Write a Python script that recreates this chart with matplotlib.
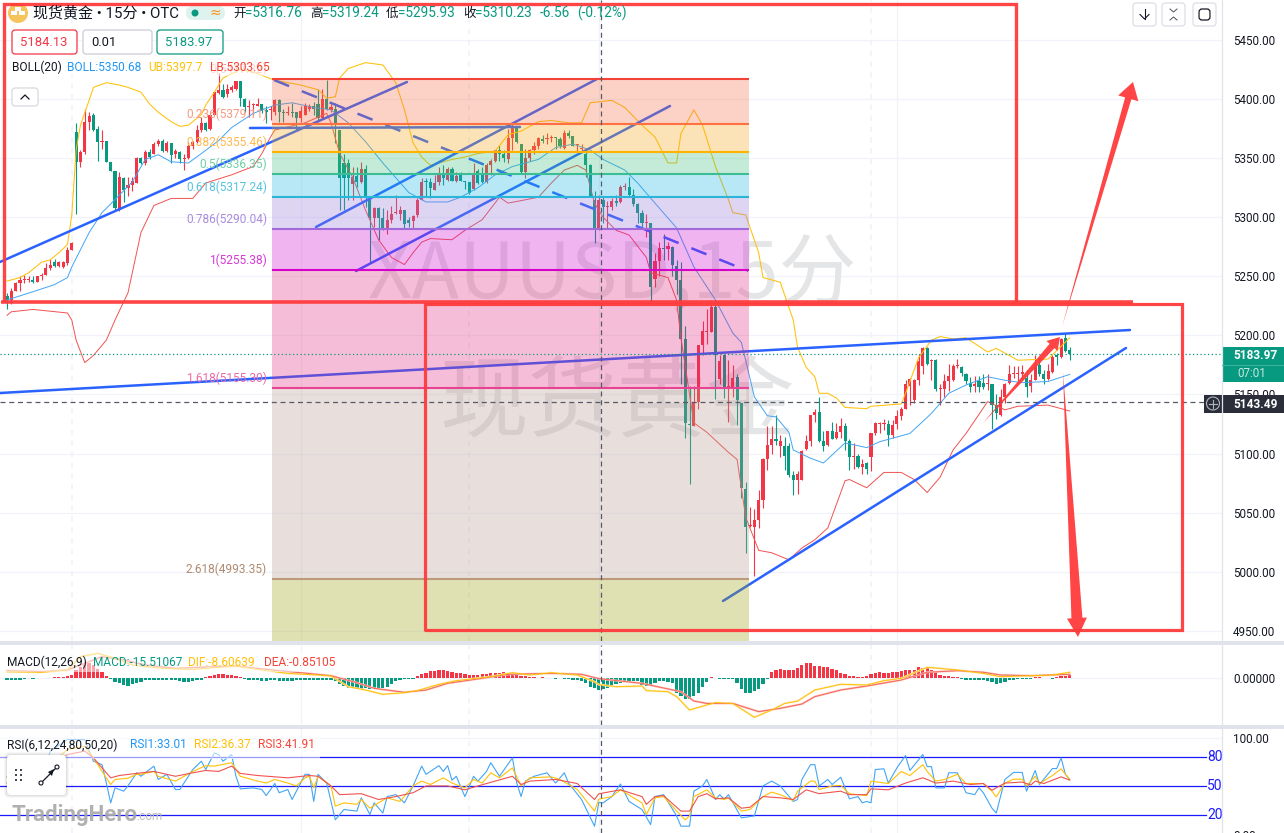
import matplotlib
matplotlib.use("Agg")
import matplotlib.pyplot as plt
import numpy as np
from matplotlib.patches import FancyBboxPatch, Polygon, Circle, Rectangle

plt.rcParams['font.family'] = ['Roboto', 'Noto Sans CJK SC', 'DejaVu Sans']

# --- candles, 15 minute bars
opens = [5233,5230,5238,5244,5247,5247,5247,5245,5250,5251,
    5257,5262,5259,5258,5261,5272,5372,5347,5355,5381,
    5387,5375,5364,5365,5347,5339,5306,5333,5325,5327,
    5329,5350,5346,5355,5354,5362,5365,5356,5363,5354,
    5355,5349,5350,5360,5364,5374,5380,5375,5387,5405,
    5408,5404,5408,5409,5415,5400,5393,5395,5394,5396,
    5391,5391,5389,5399,5389,5388,5389,5389,5384,5387,
    5392,5394,5396,5384,5400,5391,5392,5374,5346,5346,
    5328,5335,5330,5341,5315,5299,5308,5299,5290,5298,
    5304,5303,5306,5298,5297,5302,5315,5331,5330,5323,
    5330,5337,5332,5341,5331,5336,5331,5330,5324,5339,
    5336,5330,5344,5348,5357,5354,5349,5367,5377,5362,
    5338,5350,5357,5360,5366,5366,5367,5368,5366,5359,
    5371,5369,5361,5358,5354,5344,5315,5290,5315,5309,
    5309,5314,5313,5326,5326,5319,5311,5304,5295,5295,
    5248,5263,5274,5273,5275,5259,5247,5197,5125,5123,
    5144,5192,5203,5203,5224,5163,5183,5156,5156,5165,
    5143,5070,5039,5038,5044,5061,5095,5107,5112,5106,
    5106,5106,5082,5078,5078,5104,5111,5133,5135,5111,
    5107,5119,5113,5118,5123,5111,5097,5098,5089,5092,
    5097,5117,5125,5125,5125,5116,5125,5132,5138,5157,
    5145,5162,5174,5189,5178,5179,5155,5155,5161,5162,
    5174,5173,5167,5160,5157,5161,5160,5159,5159,5141,
    5133,5148,5160,5167,5167,5167,5164,5157,5162,5175,
    5167,5163,5169,5183,5182,5198,5188]
closes = [5230,5238,5244,5247,5248,5248,5245,5250,5251,5257,
    5260,5259,5262,5262,5272,5278,5347,5355,5381,5386,
    5374,5364,5365,5347,5339,5308,5334,5323,5327,5331,
    5350,5346,5355,5351,5362,5365,5356,5363,5353,5356,
    5349,5349,5360,5364,5374,5380,5374,5387,5406,5408,
    5402,5409,5410,5415,5401,5393,5394,5395,5396,5390,
    5389,5392,5399,5389,5388,5389,5388,5384,5390,5394,
    5394,5392,5384,5400,5392,5393,5380,5333,5333,5333,
    5334,5330,5341,5316,5299,5308,5299,5289,5298,5303,
    5304,5306,5294,5295,5301,5315,5330,5330,5325,5329,
    5337,5333,5341,5331,5335,5331,5330,5321,5337,5329,
    5330,5344,5348,5357,5354,5350,5367,5377,5364,5338,
    5350,5357,5360,5367,5365,5366,5368,5367,5360,5371,
    5369,5360,5361,5358,5344,5318,5290,5315,5309,5309,
    5314,5312,5326,5326,5319,5311,5304,5295,5295,5241,
    5263,5274,5273,5276,5260,5247,5197,5126,5124,5144,
    5192,5204,5203,5224,5183,5178,5155,5157,5164,5145,
    5071,5038,5039,5044,5061,5095,5107,5112,5111,5111,
    5098,5082,5078,5083,5102,5111,5133,5135,5111,5106,
    5119,5112,5118,5123,5111,5097,5098,5089,5091,5087,
    5117,5126,5126,5125,5116,5124,5132,5138,5159,5163,
    5162,5178,5189,5176,5179,5155,5155,5161,5166,5174,
    5174,5168,5161,5156,5159,5156,5156,5159,5141,5134,
    5148,5159,5167,5167,5168,5169,5156,5162,5175,5167,
    5163,5170,5182,5182,5197,5187,5184]
highs = [5236,5240,5245,5250,5251,5250,5250,5250,5253,5261,
    5265,5265,5263,5263,5275,5279,5380,5357,5392,5389,
    5388,5377,5374,5365,5347,5339,5338,5334,5334,5334,
    5351,5351,5357,5358,5364,5366,5366,5365,5363,5358,
    5356,5354,5364,5365,5378,5385,5381,5387,5406,5422,
    5413,5413,5412,5415,5415,5401,5399,5397,5401,5396,
    5394,5394,5400,5400,5392,5394,5397,5389,5394,5397,
    5396,5398,5409,5409,5416,5396,5397,5374,5354,5349,
    5343,5343,5347,5344,5316,5309,5309,5308,5306,5310,
    5319,5310,5306,5300,5302,5316,5333,5333,5333,5336,
    5343,5344,5343,5343,5338,5338,5331,5330,5346,5341,
    5343,5346,5349,5357,5361,5357,5375,5379,5377,5362,
    5358,5358,5364,5368,5370,5371,5370,5368,5368,5374,
    5374,5369,5362,5362,5357,5345,5322,5319,5317,5314,
    5316,5319,5327,5329,5334,5324,5312,5306,5303,5295,
    5270,5279,5286,5279,5276,5264,5262,5208,5157,5157,
    5192,5212,5222,5230,5230,5183,5183,5179,5175,5167,
    5143,5076,5055,5053,5069,5096,5123,5123,5133,5116,
    5114,5109,5085,5085,5103,5116,5133,5138,5148,5119,
    5119,5127,5126,5130,5126,5112,5109,5100,5095,5093,
    5117,5127,5127,5129,5128,5128,5137,5139,5162,5164,
    5163,5184,5190,5190,5180,5180,5159,5167,5176,5176,
    5180,5174,5168,5165,5166,5166,5167,5167,5159,5150,
    5155,5160,5175,5174,5174,5175,5171,5167,5183,5181,
    5171,5176,5183,5185,5198,5202,5190]
lows = [5222,5227,5238,5238,5244,5245,5244,5245,5247,5251,
    5255,5258,5258,5257,5260,5272,5303,5343,5354,5374,
    5373,5348,5358,5347,5339,5305,5305,5313,5318,5322,
    5329,5345,5344,5349,5354,5360,5355,5355,5346,5350,
    5346,5340,5349,5358,5363,5372,5373,5374,5387,5404,
    5401,5402,5406,5408,5394,5389,5385,5387,5394,5388,
    5380,5382,5387,5381,5381,5387,5385,5374,5381,5387,
    5390,5387,5381,5383,5391,5389,5363,5306,5306,5315,
    5315,5326,5329,5309,5261,5292,5281,5289,5286,5295,
    5303,5298,5291,5292,5291,5300,5315,5317,5316,5323,
    5327,5327,5331,5331,5330,5331,5324,5320,5323,5328,
    5329,5329,5336,5347,5348,5347,5346,5357,5363,5337,
    5333,5348,5354,5358,5363,5362,5364,5358,5359,5358,
    5367,5360,5355,5355,5334,5317,5278,5289,5295,5290,
    5306,5310,5312,5323,5318,5310,5295,5290,5283,5228,
    5241,5250,5264,5264,5250,5235,5159,5113,5074,5123,
    5138,5183,5193,5203,5146,5159,5147,5127,5148,5124,
    5062,5016,5038,4996,5037,5054,5086,5100,5107,5097,
    5086,5080,5065,5066,5078,5103,5106,5127,5110,5102,
    5106,5112,5112,5113,5103,5086,5087,5088,5083,5083,
    5085,5116,5117,5120,5106,5113,5121,5128,5138,5141,
    5143,5158,5167,5175,5162,5153,5141,5148,5153,5161,
    5172,5166,5159,5152,5152,5152,5155,5154,5121,5129,
    5132,5143,5159,5164,5160,5162,5148,5152,5162,5166,
    5159,5162,5168,5175,5181,5186,5179]

# --- bollinger bands, (bar, price)
ub_bars = [0,3,5,8,10,12,14,15,16,17,19,20,23,26,28,31,33,35,38,40,42,45,46,48,50,54,57,62,68,72,74,76,77,79,83,87,90,92,94,96,98,100,103,106,109,113,116,119,123,126,130,133,135,140,143,147,150,153,155,156,159,161,164,167,168,171,174,175,179,182,183,185,187,188,190,192,194,199,200,207,208,211,214,216,219,222,227,229,234,241,246]
ub_vals = [5246,5249,5253,5262,5264,5270,5277,5302,5357,5378,5399,5410,5414,5412,5410,5406,5396,5389,5381,5377,5378,5387,5395,5406,5418,5425,5423,5416,5412,5408,5401,5402,5418,5426,5431,5429,5414,5391,5363,5351,5344,5346,5349,5351,5354,5356,5370,5373,5381,5382,5380,5380,5397,5399,5393,5378,5368,5346,5346,5371,5391,5378,5343,5315,5304,5302,5270,5249,5245,5213,5190,5173,5165,5151,5151,5147,5139,5138,5140,5142,5151,5181,5196,5199,5197,5198,5186,5189,5179,5180,5198]
mid_bars = [0,6,11,14,15,19,22,25,29,32,35,38,42,45,49,52,57,62,66,71,75,79,83,87,93,97,102,105,109,113,117,123,127,131,135,138,143,146,150,155,159,164,168,170,173,176,178,181,182,186,189,194,199,202,206,209,214,218,222,227,231,235,241,246]
mid_vals = [5230,5237,5243,5249,5258,5287,5304,5315,5330,5349,5353,5347,5346,5354,5365,5376,5388,5395,5397,5393,5391,5380,5364,5346,5321,5313,5313,5317,5325,5336,5343,5349,5359,5362,5357,5349,5340,5329,5312,5291,5258,5230,5202,5194,5148,5132,5131,5118,5103,5096,5092,5109,5105,5110,5114,5117,5134,5151,5158,5165,5162,5160,5161,5167]
lb_bars = [0,1,6,14,15,16,18,20,23,25,28,31,34,38,43,46,52,57,59,61,62,69,74,75,77,80,83,86,89,92,94,96,98,103,106,110,114,116,123,126,129,132,134,136,138,141,144,148,149,153,155,156,159,162,167,169,171,174,177,181,184,187,190,194,195,199,203,207,210,213,216,219,222,227,231,234,241,246]
lb_vals = [5217,5220,5222,5219,5213,5196,5177,5183,5196,5213,5236,5287,5310,5316,5316,5329,5336,5343,5354,5368,5374,5380,5388,5380,5354,5334,5306,5281,5266,5260,5270,5279,5282,5281,5289,5298,5317,5312,5317,5329,5340,5344,5340,5312,5300,5289,5285,5266,5253,5249,5230,5198,5126,5118,5101,5095,5046,5018,5016,5010,5020,5027,5037,5077,5078,5071,5084,5084,5078,5067,5080,5103,5117,5144,5137,5140,5141,5136]

# --- fibonacci retracement
fib_ratios = ["0", "0.236", "0.382", "0.5", "0.618", "0.786", "1", "1.618", "2.618"]
fib_prices = [5417.32, 5379.11, 5355.46, 5336.35, 5317.24, 5290.04, 5255.38, 5155.30, 4993.35]

# --- macd
macd_hist = [-2,-2,-2,-2,-1,-0.5,-1,0.5,0.5,0.5,
    0.5,1,1,1.5,3,4,10,14,18,20,
    17,12,8,3,-1,-5,-7,-9,-10,-8,
    -6,-5,-3,-3,-3,-3,-2,-3,-3,-3,
    -4,-5,-5,-4,-3,-2,1,3,4,5,
    5,4,4,2,1,-1,-2,-3,-3,-4,
    -4,-3,-3,-4,-4,-4,-4,-3,-3,-3,
    -3,-3,-2,-2,-2,-3,-4,-8,-11,-13,
    -13,-13,-15,-13,-14,-14,-14,-13,-12,-8,
    -4,-2,-1,-1,-1,3,5,7,9,9,
    10,10,9,8,7,6,5,4,4,4,
    5,5,6,6,7,8,7,5,4,3,
    2,1,1,0.5,1,0.5,-0.5,-1,-0.5,-1,
    -1,-2,-3,-4,-7,-12,-13,-15.5,-14,-13,
    -12,-8,-6,-5,-4,-4,-4,-9,-10,-9,
    -7,-4,-4,-5,-6,-19,-24,-27,-27,-24,
    -19,-12,-5,1,0,-1,-1,-1,-1,-7,
    -14,-19,-19,-17,-14,-8,-1,8,11,12,
    11,10,10,13,17,19,19,16,15,14,
    14,12,11,7,5,3,2,1,1,3,
    5,6,8,7,7,8,8,9,10,11,
    11,14,13,13,11,9,4,2,2,1,
    1,-1,-2,-3,-3,-3,-3,-4,-5,-8,
    -7,-5,-2,-2,-1,-1,-1,-1,1,1,
    0.5,-0.5,-1,1,3,3,4]
dif_bars = [0,8,14,17,21,25,29,36,43,49,53,59,65,72,75,79,83,87,92,95,100,104,112,117,121,126,132,136,137,141,147,148,153,155,158,162,164,168,173,177,180,183,187,193,199,203,207,213,220,226,230,237,242,246]
dif_vals = [8.2,7.4,10.4,27.7,32,25.5,16.9,12.5,11.3,13.9,15.6,10.4,6,3.9,2.6,-11.3,-15.6,-21.2,-19,-16.4,-8.2,-3.5,1.7,6.9,3.9,6.9,3.9,-4.8,-8.6,-11.3,-10.4,-16.4,-17.8,-24.2,-41.6,-35,-32,-33,-51,-41.6,-33,-30,-15.6,-8.2,-9.1,-3.5,-0.4,13.9,10.4,6,1.7,3,3.9,7.4]
dea_bars = [0,8,14,18,22,27,32,39,48,53,60,67,75,81,85,92,97,102,110,116,126,133,137,147,156,159,162,168,174,179,184,187,193,199,207,213,220,226,230,237,246]
dea_vals = [9.5,8.2,10.4,19,27.7,23.4,16.9,12.5,14.7,15.6,11.2,7.4,3,-6.1,-13.4,-18.6,-15.6,-6.9,-0.4,4.8,6,4.8,-0.85,-7,-17.8,-29.9,-33,-33,-43.7,-39.4,-33.8,-24.2,-15.6,-10.4,-2.6,7.4,9.5,7.4,3.9,3,4.8]

# --- rsi
rsi1_bars = [0,1,4,7,9,10,14,18,20,22,23,24,25,27,28,30,31,34,35,37,39,40,43,45,46,48,49,50,52,53,54,57,59,60,62,63,65,66,69,70,71,72,74,76,78,81,82,84,85,87,88,90,92,94,96,97,100,101,102,103,104,106,108,109,111,112,114,117,118,119,120,122,125,127,129,130,133,136,137,138,140,142,144,147,149,150,152,155,156,158,159,161,162,164,165,166,167,170,173,175,177,179,182,183,184,186,187,188,190,191,193,195,197,198,199,200,201,203,204,206,208,209,212,213,214,215,217,218,220,222,224,225,226,228,229,231,233,235,236,238,239,242,243,244,245,246]
rsi1_vals = [53.2,49.8,50,55,70,86,98,98,75.6,72,53,32.5,48,44.6,50,63.6,60,70.5,56.7,62,46.3,46.3,67,75.6,67,84,82.5,75.6,82.5,60,47,48,46.3,40,52.5,43,46.3,36,62,62,34,62,53,15,25.6,24,37.7,20.5,32.5,22,39,41,32.5,50,70.5,62,71,65,71,56,60,39,60,55,65,74,60,79,53,39,55,60,63.6,53,63.6,53,36,8.4,33.01,32.5,39,52,34,25.6,10,39,41,19,8.4,8.4,44.6,50,56.7,36,41,36,41,17,19,50,55,50,34,36,56.7,72,72,50,56.7,51.5,59,36.7,39,32.5,34,32.5,67,67.7,53,68.7,81.5,66,82.5,70,70,48,48,63.6,63.6,43,41,48,43,27,22,56.7,64,64,44.6,66,51.5,68,68,79,62,56.7]
rsi2_bars = [0,4,8,14,18,20,22,24,25,28,30,31,34,35,39,43,46,48,52,54,58,60,62,65,67,69,70,71,72,75,76,78,81,82,84,86,88,91,94,96,98,101,103,106,108,110,112,114,117,119,121,126,128,132,136,137,140,142,147,148,150,152,155,157,158,159,162,164,166,167,170,172,175,177,179,182,183,186,187,188,191,193,195,199,200,204,207,209,212,213,215,217,220,222,226,228,229,231,233,235,236,238,239,242,244,246]
rsi2_vals = [53,52,65,87.7,91,79,65,51.5,56.7,58,62,62,65,60,55,65,71,70.5,74,60,55,53,56.7,53,50,58.4,60,48,60,50,29,32.5,31,36,27,32.5,37.7,34,50,55,51.5,58.4,53,48,56.7,53,63.6,58.4,68.7,50,58.4,59.4,56.7,46.3,24,36.37,39,46,32.5,20.5,37.7,39,24,15,19,39,46,37.7,36,37.7,24,25.6,39,43.6,41,35,44.6,55,55,46.3,50,50.5,42,40,55,52.5,65,60.8,72,65,55,56.7,62,52.5,52.5,44.6,38.7,53,57,57,50,60,52.5,60.8,67.7,56.7]
rsi3_bars = [0,4,8,14,18,20,22,24,26,30,34,39,43,46,49,52,54,58,65,70,72,75,77,82,86,90,94,97,102,106,109,113,117,119,121,127,132,136,137,142,147,148,150,152,156,158,160,162,164,167,170,172,175,179,182,185,188,193,195,199,200,204,208,212,215,219,223,226,228,231,235,237,238,240,244,246]
rsi3_vals = [59.4,58,66,82.5,86,79,68.7,58.4,60.8,63,65,60,63.6,66,65,70.5,63,60.8,58.4,60.8,60,50,41,42,36,39,43,50,50,46,50,55,60,51.5,55,56.7,52.5,36,41.91,46,39,31,39,40,24,24,39,42,36.7,37.7,27,28,39,37.7,36,46,42,44.6,41,41,47,46,53,58.4,53,55,51.5,52.5,45.6,53,54,51,55,52.5,59.4,56]
rsi_levels = [80, 50, 20]

price_ticks = [5450, 5400, 5350, 5300, 5250, 5200, 5150, 5100, 5050, 5000, 4950]
last_price = 5183.97
cross_price = 5143.49
cross_bar = 137.5
solid_grid_bars = [68, 137, 206]
dashed_grid_bars = [15, 107, 200]

UP = "#f23645"
DOWN = "#089981"
GRID = "#f0f3fa"
SEP = "#e0e3eb"
DARK = "#131722"
RED = "#ff3b3b"
BLUE = "#2962ff"
GOLD = "#ffc107"
MID_BLUE = "#2196f3"
BAND_RED = "#f44336"

W, H = 1284, 833
BAR_PX = 4.32
AXIS_X = 1222


def add_pane(top, bottom):
    ax = fig.add_axes([0, 1 - bottom / H, AXIS_X / W, (bottom - top) / H])
    ax.set_xlim(-7 / BAR_PX, (AXIS_X - 7) / BAR_PX)
    ax.set_xticks([])
    for s in ax.spines.values():
        s.set_visible(False)
    ax.yaxis.tick_right()
    ax.tick_params(axis="y", length=0, pad=8, labelsize=8.4, labelcolor=DARK)
    for b in solid_grid_bars:
        ax.axvline(b, color=GRID, lw=0.9, zorder=0.5)
    for b in dashed_grid_bars:
        ax.axvline(b, color=GRID, lw=1.3, ls=(0, (3, 3)), zorder=0.5)
    ax.axvline(cross_bar, color="#555a66", lw=0.9, ls=(0, (4, 3)), zorder=8)
    return ax


fig = plt.figure(figsize=(W / 100, H / 100), dpi=100, facecolor="white")

# main pane
ax = add_pane(0, 641)
ax.set_ylim(5484 - 0.8467 * 641, 5484)
ax.set_yticks(price_ticks)
ax.set_yticklabels(["%.2f" % p for p in price_ticks])
ax.grid(axis="y", color=GRID, lw=0.9, zorder=0.5)
ax.set_axisbelow(True)

ui = fig.add_axes([0, 0, 1, 1], zorder=10)
ui.set_xlim(0, W)
ui.set_ylim(H, 0)
ui.axis("off")
ui.patch.set_alpha(0)

ax.text(612, 276, "XAUUSD,15分", transform=ui.transData, fontsize=56, color="#e4e5e7",
        ha="center", va="center", zorder=1, family=['Noto Sans CJK SC', 'DejaVu Sans'])
ax.text(617, 405, "现货黄金", transform=ui.transData, fontsize=64, color="#e4e5e7",
        ha="center", va="center", zorder=1, family=['Noto Sans CJK SC', 'DejaVu Sans'])

bars = np.arange(len(closes))
o, c, hi, lo = map(np.array, (opens, closes, highs, lows))
colors = np.where(c >= o, UP, DOWN)
ax.vlines(bars, lo, hi, colors=colors, lw=0.8, zorder=2)
body = np.maximum(np.abs(c - o), 0.9)
ax.bar(bars, body, bottom=np.minimum(o, c), width=0.72, color=colors, zorder=2.1, linewidth=0)

ax.plot(ub_bars, ub_vals, color=GOLD, lw=0.75, zorder=3)
ax.plot(mid_bars, mid_vals, color="#42a5f5", lw=0.7, zorder=3)
ax.plot(lb_bars, lb_vals, color="#ef5350", lw=0.7, zorder=3)

# trend lines sit under the fib fill, in screen position
trend_lines = [((0, 262), (407, 82)), ((250, 128), (520, 127)), ((316, 227), (597, 79)),
               ((356, 271), (670, 106)), ((0, 393), (1130, 330)), ((723, 601), (1126, 348))]
for (x0, y0), (x1, y1) in trend_lines:
    ax.plot([x0, x1], [y0, y1], color=BLUE, lw=1.8, transform=ui.transData, zorder=4,
            solid_capstyle="round")
ax.plot([274, 748], [80, 271], color=BLUE, lw=1.8, ls=(0, (6.5, 5.5)), transform=ui.transData, zorder=4)

# fib zones
fib_left, fib_right = (272 - 7) / BAR_PX, (749 - 7) / BAR_PX
fib_line_col = ["#f44336", "#ff7043", "#ffb300", "#3dbd94", "#29b6d8", "#a06ad8", "#d500c9", "#e84393", "#bc9a7c"]
fib_fill_col = ["#f56c41", "#f8a512", "#3ec07d", "#16b6de", "#9476da", "#d00cd0", "#e1267d", "#b6988e", "#989e05"]
fib_text_col = ["#f7a8a0", "#f79a80", "#ffb84d", "#6fcfa8", "#55c4e0", "#a98be0", "#d63ad6", "#ee6aa6", "#b08a70"]
edges = fib_prices + [ax.get_ylim()[0]]
for i, p in enumerate(fib_prices):
    ax.fill_between([fib_left, fib_right], edges[i + 1], p, color=fib_fill_col[i], alpha=0.3, lw=0, zorder=5)
    ax.plot([fib_left, fib_right], [p, p], color=fib_line_col[i], lw=1.5, zorder=6, solid_capstyle="butt")
    ax.annotate("%s(%.2f)" % (fib_ratios[i], p), (fib_left, p), xytext=(-5, 3), textcoords="offset pixels",
                ha="right", va="bottom", fontsize=8.6, color=fib_text_col[i], zorder=6)

ax.axhline(last_price, color=DOWN, lw=0.9, ls=(0, (1, 2)), zorder=7)
ax.axhline(cross_price, color="#555a66", lw=0.9, ls=(0, (4, 3)), zorder=8)

# macd pane
ax_macd = add_pane(645, 725)
ax_macd.set_ylim((678 - 725) / 0.77, (678 - 645) / 0.77)
ax_macd.set_yticks([0])
ax_macd.set_yticklabels(["0.00000"])
ax_macd.axhline(0, color=GRID, lw=0.9, zorder=0.5)
hist = np.array(macd_hist)
ax_macd.bar(np.arange(len(hist)), hist, width=0.75, color=np.where(hist >= 0, UP, DOWN), lw=0, zorder=2)
ax_macd.plot(dea_bars, dea_vals, color="#ffc4ba", lw=1.5, zorder=3)
ax_macd.plot(dea_bars, dea_vals, color="#f4655c", lw=0.7, zorder=3.2)
ax_macd.plot(dif_bars, dif_vals, color="#ffeab8", lw=1.5, zorder=3.1)
ax_macd.plot(dif_bars, dif_vals, color=GOLD, lw=0.7, zorder=3.3)

# rsi pane
ax_rsi = add_pane(729, 833)
ax_rsi.set_ylim((834.3 - 833) / 0.967, (834.3 - 729) / 0.967)
ax_rsi.set_yticks([100])
ax_rsi.set_yticklabels(["100.00"])
ax_rsi.axhline(100, color=GRID, lw=0.9, zorder=0.5)
for lv in rsi_levels:
    ax_rsi.plot([(0 - 7) / BAR_PX, (1206 - 7) / BAR_PX], [lv, lv], color="#1a1aff", lw=0.9, zorder=1)
    ax_rsi.text((1207 - 7) / BAR_PX, lv, str(lv), color="#1a1aff", fontsize=10, va="center", ha="left", zorder=4)
ax_rsi.plot(rsi1_bars, rsi1_vals, color="#42a5f5", lw=0.8, zorder=3)
ax_rsi.plot(rsi3_bars, rsi3_vals, color="#ef5350", lw=0.8, zorder=3.2)
ax_rsi.plot(rsi2_bars, rsi2_vals, color=GOLD, lw=0.8, zorder=3.1)

# separators and right border
ui.add_patch(Rectangle((0, 641), W, 4, color=SEP, lw=0))
ui.add_patch(Rectangle((0, 725), W, 4, color=SEP, lw=0))
ui.plot([AXIS_X, AXIS_X], [0, H], color=SEP, lw=0.9)
ui.text(1233, 836, "0.00", fontsize=8.4, color=DARK, va="center")

# legends have a see-through white backing
for x0, y0, x1, y1 in [(5, 60, 268, 76), (0, 652, 340, 672), (0, 738, 320, 759)]:
    ui.add_patch(Rectangle((x0, y0), x1 - x0, y1 - y0, color="white", alpha=0.55, lw=0))


# hand drawn red boxes and arrows
def red_line(xs, ys, width=2.4):
    ui.plot(xs, ys, color=RED, lw=width, solid_capstyle="butt", solid_joinstyle="miter", alpha=0.95)


def tapered_arrow(start, end, shaft_w, head_w, head_l):
    a, b = np.array(start, float), np.array(end, float)
    d = (b - a) / np.hypot(*(b - a))
    n = np.array([-d[1], d[0]])
    base = b - d * head_l
    pts = [a, base + n * shaft_w / 2, base + n * head_w / 2, b, base - n * head_w / 2, base - n * shaft_w / 2]
    ui.add_patch(Polygon(pts, closed=True, color=RED, lw=0, alpha=0.95))


red_line([4, 4, 1016, 1016], [302, 4, 4, 302])
red_line([1, 1133], [302, 302], 2.6)
red_line([425, 425, 1182, 1182, 425], [631, 304, 304, 630, 630], 2.3)
tapered_arrow((1062, 327), (1133, 82), 6.5, 21, 17)
tapered_arrow((1063, 372), (1078, 637), 11, 20, 19)
tapered_arrow((983, 423), (1060, 337), 6.5, 15, 12)

# header
ui.add_patch(Circle((18, 13), 10, color="#f5c45a", lw=0))
for bx, by in [(14, 12), (22, 12), (18, 8)]:
    ui.add_patch(Rectangle((bx - 3, by - 1), 6, 3.5, color="white", lw=0))
ui.text(33, 13, "现货黄金 • 15分 • OTC", fontsize=10.8, color=DARK, va="center")
ui.add_patch(FancyBboxPatch((186, 6), 39, 14, boxstyle="round,pad=0,rounding_size=7", fc="#dff3ee", ec="none"))
ui.add_patch(Circle((195, 13), 3.5, color=DOWN, lw=0))
ui.text(215, 13, "≈", fontsize=10, color="#f7931e", va="center", ha="center", family=['DejaVu Sans'])
for lx, lab, vx, val in [(233, "开", 245, "=5316.76"), (310, "高", 322, "=5319.24"),
                         (386, "低", 398, "=5295.93"), (463, "收", 475, "=5310.23")]:
    ui.text(lx, 13, lab, fontsize=9, color=DARK, va="center")
    ui.text(vx, 13, val, fontsize=9.8, color=DOWN, va="center")
ui.text(540, 13, "-6.56", fontsize=9.8, color=DOWN, va="center")
ui.text(577, 13, "(-0.12%)", fontsize=9.8, color=DOWN, va="center")

for x0, x1, col, txt, tcol in [(12, 77, UP, "5184.13", UP), (83, 152, "#c9ccd4", "0.01", DARK),
                               (157, 223, DOWN, "5183.97", DOWN)]:
    ui.add_patch(FancyBboxPatch((x0, 30), x1 - x0, 24, boxstyle="round,pad=0,rounding_size=3",
                                fc="white", ec=col, lw=0.9))
    ui.text(x0 + 8, 42.5, txt, fontsize=9.4, color=tcol, va="center")

for x, txt, col in [(12, "BOLL(20)", DARK), (67, "BOLL:5350.68", MID_BLUE), (148, "UB:5397.7", GOLD), (210, "LB:5303.65", BAND_RED)]:
    ui.text(x, 67, txt, fontsize=8.6, color=col, va="center")
ui.add_patch(FancyBboxPatch((12, 88), 26, 18, boxstyle="round,pad=0,rounding_size=3", fc="white", ec="#d1d4dc", lw=0.8))
ui.plot([21, 25, 29], [99, 95, 99], color=DARK, lw=0.9)

for x, txt, col in [(7, "MACD(12,26,9)", DARK), (93, "MACD:-15.51067", DOWN), (188, "DIF:-8.60639", GOLD), (264, "DEA:-0.85105", BAND_RED)]:
    ui.text(x, 662, txt, fontsize=8.6, color=col, va="center")
for x, txt, col in [(7, "RSI(6,12,24,80,50,20)", DARK), (130, "RSI1:33.01", MID_BLUE), (194, "RSI2:36.37", GOLD), (258, "RSI3:41.91", BAND_RED)]:
    ui.text(x, 745, txt, fontsize=8.6, color=col, va="center")

# top right buttons
for x0 in [1133, 1162, 1193]:
    ui.add_patch(FancyBboxPatch((x0, 3), 23, 23, boxstyle="round,pad=0,rounding_size=3", fc="white", ec="#d8dbe2", lw=0.8))
ui.plot([1144.5, 1144.5], [9, 19], color=DARK, lw=0.8)
ui.plot([1140, 1144.5, 1149], [14.5, 19, 14.5], color=DARK, lw=0.8)
ui.plot([1170, 1173.5, 1177], [9, 12, 9], color="#50535e", lw=0.7)
ui.plot([1170, 1173.5, 1177], [20, 17, 20], color="#50535e", lw=0.7)
ui.add_patch(FancyBboxPatch((1199, 9), 11, 11, boxstyle="round,pad=0,rounding_size=3", fc="none", ec=DARK, lw=0.9))
ui.plot([1197, 1197], [12, 17], color="white", lw=1.6)
ui.plot([1212, 1212], [12, 17], color="white", lw=1.6)

# price tags
ui.add_patch(Rectangle((1222, 347), 62, 35, color=DOWN, lw=0))
ui.plot([1222, 1284], [364.5, 364.5], color="#3fb39e", lw=0.7)
ui.text(1233, 355.5, "5183.97", fontsize=8.6, color="white", va="center", fontweight="bold")
ui.text(1237, 373, "07:01", fontsize=8.4, color="#c6e8e0", va="center")
ui.add_patch(Rectangle((1204, 395), 80, 18, color="#2a2e39", lw=0))
ui.add_patch(Circle((1213, 403.5), 6.5, fc="none", ec="#b2b5be", lw=0.8))
ui.plot([1209, 1217], [403.5, 403.5], color="#b2b5be", lw=0.8)
ui.plot([1213, 1213], [399.5, 407.5], color="#b2b5be", lw=0.8)
ui.text(1233, 404, "5143.49", fontsize=8.6, color="white", va="center", fontweight="bold")

# drawing toolbar and watermark
for off, alpha in [(3, 0.03), (2, 0.04), (1, 0.05)]:
    ui.add_patch(FancyBboxPatch((7 - off, 755 - off), 59 + 2 * off, 40 + 2 * off, boxstyle="round,pad=0,rounding_size=5",
                                fc="black", ec="none", alpha=alpha, zorder=5))
ui.add_patch(FancyBboxPatch((7, 755), 59, 40, boxstyle="round,pad=0,rounding_size=4", fc="white", ec="none", zorder=6))
for dx in (16, 21):
    for dy in (770, 775, 780):
        ui.add_patch(Circle((dx, dy), 1, color=DARK, lw=0, zorder=7))
ui.plot([41, 57], [783, 767], color=DARK, lw=0.9, zorder=7)
ui.add_patch(Polygon([(54, 769), (48, 772), (52, 776)], color=DARK, lw=0, zorder=7))
ui.add_patch(Circle((41, 783), 2, fc="white", ec=DARK, lw=0.8, zorder=8))
ui.add_patch(Circle((57, 767), 2, fc="white", ec=DARK, lw=0.8, zorder=8))
ui.text(11, 815, "TradingHero", fontsize=16, fontweight="bold", color="#a8a8a8", va="center", alpha=0.9, zorder=7)
ui.text(136, 817, ".com", fontsize=8.5, color="#bcbcbc", va="center", zorder=7)

fig.savefig("out.png", dpi=100, facecolor="white")
